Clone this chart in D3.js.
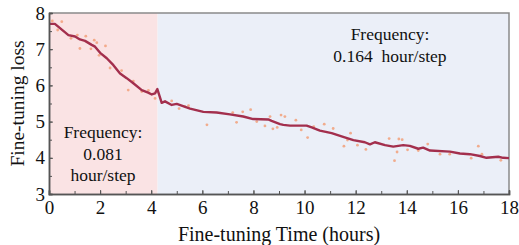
<!DOCTYPE html>
<html>
<head>
<meta charset="utf-8">
<script src="https://cdn.jsdelivr.net/npm/d3@7"></script>
</head>
<body style="margin:0">
<svg id="chart" width="519" height="245"></svg>
<script>
// smoothed loss curve (hours, loss)
const lineHours = [0.04, 0.23, 0.43, 0.76, 1.02, 1.21, 1.41, 1.67, 1.80, 2.00, 2.26, 2.52, 2.78, 3.04, 3.30, 3.63, 3.88, 4.02, 4.15, 4.24, 4.41, 4.54, 4.80, 5.00, 5.52, 6.04, 6.56, 7.08, 7.60, 7.99, 8.58, 8.71, 9.04, 9.17, 9.43, 10.08, 10.28, 10.60, 11.06, 11.51, 11.91, 12.36, 12.56, 12.75, 13.15, 13.47, 13.86, 14.12, 14.45, 14.64, 14.91, 15.69, 16.08, 16.47, 16.86, 17.12, 17.58, 17.77, 18.0];
const lineLoss = [7.70, 7.70, 7.58, 7.39, 7.35, 7.27, 7.23, 7.12, 7.07, 6.90, 6.75, 6.56, 6.33, 6.20, 6.06, 5.87, 5.80, 5.75, 5.78, 5.90, 5.52, 5.56, 5.46, 5.49, 5.36, 5.27, 5.25, 5.20, 5.14, 5.07, 5.06, 5.02, 4.93, 4.91, 4.89, 4.89, 4.84, 4.75, 4.68, 4.58, 4.49, 4.43, 4.37, 4.43, 4.35, 4.31, 4.35, 4.33, 4.25, 4.28, 4.20, 4.17, 4.12, 4.10, 4.05, 4.00, 4.03, 4.00, 3.99];

// raw loss samples
const rawHours = [0.13, 0.34, 0.50, 0.86, 1.11, 1.21, 1.44, 1.64, 1.77, 1.87, 1.96, 2.21, 2.39, 2.84, 3.10, 3.30, 3.63, 3.89, 4.15, 4.80, 5.09, 5.32, 5.46, 6.18, 7.19, 7.34, 7.58, 7.89, 8.13, 8.45, 8.65, 8.76, 8.93, 9.08, 9.23, 9.66, 9.87, 10.12, 10.36, 10.77, 11.12, 11.54, 11.68, 11.80, 12.07, 12.40, 13.31, 13.52, 13.62, 13.69, 13.82, 14.03, 14.45, 14.82, 15.30, 15.68, 16.52, 16.80, 16.94, 17.68];
const rawLoss = [7.78, 7.53, 7.76, 7.30, 7.39, 7.02, 7.36, 7.01, 7.25, 7.18, 6.83, 7.09, 6.48, 6.41, 5.87, 6.12, 5.83, 5.86, 5.64, 5.57, 5.36, 5.41, 5.44, 4.91, 5.25, 4.98, 5.27, 5.33, 5.00, 4.88, 5.14, 4.80, 4.84, 5.18, 5.14, 5.04, 4.77, 4.56, 4.86, 4.93, 4.81, 4.32, 4.49, 4.68, 4.35, 4.23, 4.53, 3.92, 4.16, 4.52, 4.50, 4.22, 4.20, 4.38, 4.10, 4.10, 3.99, 4.32, 4.10, 3.93];

// shaded phases
const phaseStart = [0, 4.25];
const phaseEnd = [4.25, 18];
const phaseColor = ["#fae3e4", "#ebeff8"];

const xTicks = [0, 2, 4, 6, 8, 10, 12, 14, 16, 18];
const yTicks = [3, 4, 5, 6, 7, 8];

const FONT = "Liberation Serif";
const margin = {left: 49, right: 10, top: 13, bottom: 51};
const W = 519, H = 245;
const svg = d3.select("#chart");

const x = d3.scaleLinear().domain([0, 18]).range([margin.left, W - margin.right]);
const y = d3.scaleLinear().domain([3, 8]).range([H - margin.bottom, margin.top]);

// background phases
svg.selectAll("rect.phase")
  .data(phaseStart)
  .enter().append("rect")
  .attr("x", (d, i) => x(d))
  .attr("y", y(8))
  .attr("width", (d, i) => x(phaseEnd[i]) - x(d))
  .attr("height", y(3) - y(8))
  .attr("fill", (d, i) => phaseColor[i]);

// top / right frame
svg.append("path")
  .attr("d", `M${x(0)},${y(8)}H${x(18)}V${y(3)}`)
  .attr("fill", "none").attr("stroke", "#8a8a8a").attr("stroke-width", 1.5);

// raw points
svg.selectAll("circle.raw")
  .data(rawHours)
  .enter().append("circle")
  .attr("cx", d => x(d))
  .attr("cy", (d, i) => y(rawLoss[i]))
  .attr("r", 1.4)
  .attr("fill", "#f2a07a")
  .attr("opacity", 0.85);

// smoothed line
const line = d3.line().x(d => x(d)).y((d, i) => y(lineLoss[i]));
svg.append("path")
  .attr("d", line(lineHours))
  .attr("fill", "none")
  .attr("stroke", "#a32f4d")
  .attr("stroke-width", 2.4)
  .attr("stroke-linejoin", "round");

// x axis
const xAxis = svg.append("g")
  .attr("transform", `translate(0,${y(3)})`)
  .call(d3.axisBottom(x).tickValues(d3.range(0, 19, 1)).tickSize(-3).tickFormat(""));
xAxis.append("g").call(d3.axisBottom(x).tickValues(xTicks).tickSize(-4).tickPadding(7).tickFormat(d3.format("d")));
xAxis.selectAll("path.domain").attr("stroke", "#555").attr("stroke-width", 1.5);
xAxis.selectAll("line").attr("stroke", "#555");
xAxis.selectAll("text")
  .style("font-family", FONT).style("font-size", "19px").style("fill", "#111");

// y axis
const yAxis = svg.append("g")
  .attr("transform", `translate(${x(0)},0)`)
  .call(d3.axisLeft(y).tickValues(d3.range(3, 8.01, 0.5)).tickSize(-3).tickFormat(""));
yAxis.append("g").call(d3.axisLeft(y).tickValues(yTicks).tickSize(-4).tickPadding(6).tickFormat(d3.format("d")));
yAxis.selectAll("path.domain").attr("stroke", "#555").attr("stroke-width", 1.5);
yAxis.selectAll("line").attr("stroke", "#555");
yAxis.selectAll("text").attr("x", -4)
  .style("font-family", FONT).style("font-size", "19px").style("fill", "#111");

// axis titles
svg.append("text")
  .attr("x", (x(0) + x(18)) / 2).attr("y", 241)
  .attr("text-anchor", "middle")
  .style("font-family", FONT).style("font-size", "20px").style("fill", "#111")
  .text("Fine-tuning Time (hours)");
svg.append("text")
  .attr("transform", `translate(24,${(y(3) + y(8)) / 2}) rotate(-90)`)
  .attr("text-anchor", "middle")
  .style("font-family", FONT).style("font-size", "19.5px").style("fill", "#111")
  .text("Fine-tuning loss");

// annotations
const leftNote = ["Frequency:", "0.081", "hour/step"];
svg.append("text")
  .attr("text-anchor", "middle")
  .style("font-family", FONT).style("font-size", "17.5px").style("fill", "#111")
  .selectAll("tspan").data(leftNote).enter().append("tspan")
  .attr("x", 103).attr("y", (d, i) => 138 + i * 21.5)
  .text(d => d);

const rightNote = ["Frequency:", "0.164\u00a0\u00a0hour/step"];
svg.append("text")
  .attr("text-anchor", "middle")
  .style("font-family", FONT).style("font-size", "17.5px").style("fill", "#111")
  .selectAll("tspan").data(rightNote).enter().append("tspan")
  .attr("x", 390).attr("y", (d, i) => 40 + i * 22)
  .text(d => d);
</script>
</body>
</html>
